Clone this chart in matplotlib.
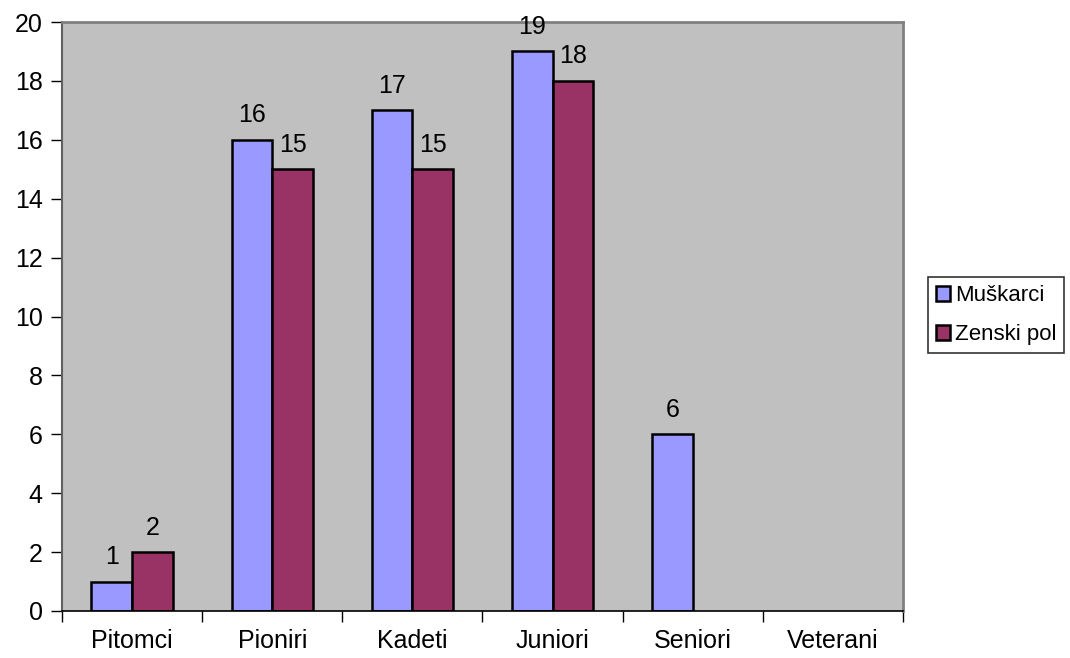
import matplotlib
matplotlib.use("Agg")
import matplotlib.pyplot as plt
import numpy as np

categories = ["Pitomci", "Pioniri", "Kadeti", "Juniori", "Seniori", "Veterani"]
muskarci = [1, 16, 17, 19, 6, 0]
zenski = [2, 15, 15, 18, 0, 0]
series_names = ["Muškarci", "Zenski pol"]
yticks = [0, 2, 4, 6, 8, 10, 12, 14, 16, 18, 20]

plt.rcParams['font.family'] = ['Liberation Sans', 'DejaVu Sans']
FS = 18
LFS = 16

fig = plt.figure(figsize=(10.7, 6.58), dpi=100)
ax = fig.add_axes([62/1070, 1 - 611/658, (903-62)/1070, (611-22)/658])
ax.set_facecolor('#C0C0C0')

x = np.arange(len(categories))
w = 0.29
b1 = ax.bar(x - w/2, muskarci, w, color='#9999FF', edgecolor='black', linewidth=1.8, label=series_names[0])
b2 = ax.bar(x + w/2, zenski, w, color='#993366', edgecolor='black', linewidth=1.8, label=series_names[1])

for bars, vals in ((b1, muskarci), (b2, zenski)):
    labels = [str(v) if v > 0 else "" for v in vals]
    ax.bar_label(bars, labels=labels, padding=9, fontsize=FS)
    for r, v in zip(bars, vals):
        if v == 0:
            r.set_visible(False)

ax.set_xlim(-0.5, len(categories) - 0.5)
ax.set_ylim(0, 20)
ax.set_yticks(yticks)
ax.set_yticklabels([str(t) for t in yticks], fontsize=FS)
ax.set_xticks(x)
ax.set_xticklabels(categories, fontsize=FS)
ax.tick_params(axis='x', length=0, pad=13)
ax.set_xticks(np.arange(-0.5, len(categories), 1), minor=True)
ax.tick_params(axis='x', which='minor', length=8, width=1, color='black')
ax.tick_params(axis='y', length=8, width=1, color='black', pad=6)

for s in ['top', 'right']:
    ax.spines[s].set_color('#808080')
    ax.spines[s].set_linewidth(2)
ax.spines['left'].set_color('#606060')
ax.spines['left'].set_linewidth(1.5)
ax.spines['bottom'].set_color('black')
ax.spines['bottom'].set_linewidth(1.2)

leg = fig.legend(handles=[b1, b2], labels=series_names, loc='center left',
                 bbox_to_anchor=(928/1070, 1 - 315/658), fontsize=LFS,
                 frameon=True, fancybox=False, edgecolor='black',
                 handlelength=0.65, handleheight=0.65, handletextpad=0.2,
                 borderpad=0.35, labelspacing=0.8, borderaxespad=0)
leg.get_frame().set_linewidth(1.2)

fig.savefig("out.png", dpi=100, facecolor='white')
